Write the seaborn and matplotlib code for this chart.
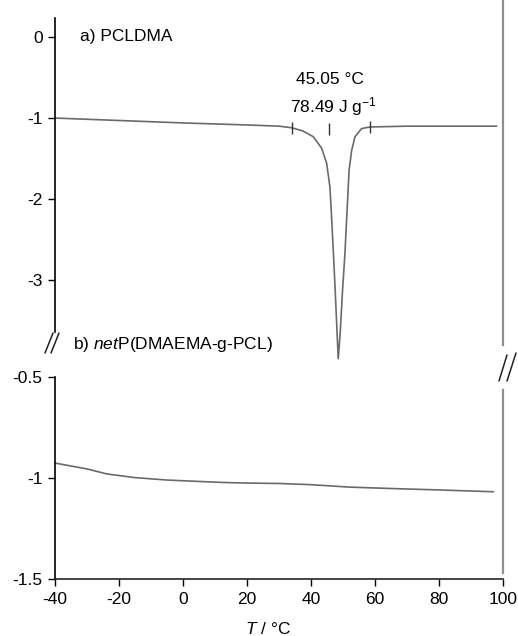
import numpy as np
import pandas as pd
import seaborn as sns
import matplotlib.pyplot as plt
from matplotlib.lines import Line2D

# a) PCLDMA trace (T in °C, heat flow)
top_T = [-40, -20, 0, 20, 30, 34.0, 37.5, 40.7, 43.3, 44.9, 45.9, 46.25, 47.0, 47.5, 48.5,
         49.1, 49.8, 50.6, 51.9, 52.7, 53.75, 55.8, 58.4, 70, 85, 98]
top_v = [-1.00, -1.03, -1.06, -1.085, -1.10, -1.12, -1.16, -1.23, -1.37, -1.56, -1.85, -2.09,
         -2.67, -3.08, -3.97, -3.66, -3.16, -2.67, -1.64, -1.40, -1.23, -1.13, -1.11, -1.10,
         -1.10, -1.10]

# b) netP(DMAEMA-g-PCL) trace
bot_T = [-40, -30, -23.75, -15, -5, 5, 12.5, 20, 30, 40, 52, 65, 80, 97]
bot_v = [-0.926, -0.955, -0.98, -0.998, -1.01, -1.017, -1.022, -1.025, -1.027, -1.033,
         -1.045, -1.052, -1.059, -1.068]

# integration markers on the peak
mark_T = [34.1, 45.6, 58.4]
mark_v = [-1.12, -1.13, -1.11]

x_ticks = [-40, -20, 0, 20, 40, 60, 80, 100]
top_ticks = [0, -1, -2, -3]
bot_ticks = [-0.5, -1, -1.5]
bot_labels = ["-0.5", "-1", "-1.5"]

sns.set_style("ticks")
plt.rcParams['font.family'] = ['Liberation Sans', 'DejaVu Sans']
plt.rcParams['axes.unicode_minus'] = False
plt.rcParams['mathtext.fontset'] = 'custom'
plt.rcParams['mathtext.rm'] = 'Liberation Sans'
plt.rcParams['mathtext.it'] = 'Liberation Sans:italic'
plt.rcParams['text.color'] = 'black'
plt.rcParams['xtick.color'] = 'black'
plt.rcParams['ytick.color'] = 'black'
plt.rcParams['axes.labelcolor'] = 'black'

fs = 12.5
line_col = '#6a6a6a'

df_top = pd.DataFrame({'T': top_T, 'v': top_v})
df_bot = pd.DataFrame({'T': bot_T, 'v': bot_v})

fig = plt.figure(figsize=(5.18, 6.36), dpi=100)
ax1 = fig.add_axes([0.1062, 0.418, 0.8649, 0.582])
ax2 = fig.add_axes([0.1062, 0.0896, 0.8649, 0.3176])

sns.lineplot(data=df_top, x='T', y='v', ax=ax1, color=line_col, lw=1.2, sort=False)
sns.lineplot(data=df_bot, x='T', y='v', ax=ax2, color=line_col, lw=1.2, sort=False)
ax1.plot(mark_T, mark_v, ls='none', marker='|', ms=8, mew=1.0, color='#333333')

for ax in (ax1, ax2):
    ax.set_xlim(-40, 100)
    ax.set_xlabel('')
    ax.set_ylabel('')
    ax.spines['top'].set_visible(False)
    ax.spines['left'].set_color('black')
    ax.spines['left'].set_linewidth(1.2)
    ax.spines['right'].set_visible(True)
    ax.spines['right'].set_color('#8f8f8f')
    ax.spines['right'].set_linewidth(1.6)
    ax.tick_params(axis='y', labelsize=fs, length=5, width=1, direction='out', pad=4, right=False)

# top panel
ax1.set_ylim(-4.111, 0.457)
ax1.set_yticks(top_ticks)
ax1.set_yticklabels([str(t) for t in top_ticks])
ax1.spines['bottom'].set_visible(False)
ax1.spines['left'].set_bounds(-3.64, 0.23)
ax1.spines['right'].set_bounds(-3.80, 0.457)
ax1.tick_params(axis='x', bottom=False, labelbottom=False)
ax1.set_zorder(3)
ax1.patch.set_visible(False)

ax1.text(-32.2, 0.01, 'a) PCLDMA', fontsize=fs, ha='left', va='center')
ax1.text(45.9, -0.53, '45.05 °C', fontsize=fs, ha='center', va='center')
ax1.text(46.9, -0.86, '78.49 J g$^{-1}$', fontsize=fs, ha='center', va='center')
ax1.text(-34.4, -3.80, 'b) $\\it{net}$P(DMAEMA-g-PCL)', fontsize=fs, ha='left', va='center')

# bottom panel
ax2.set_ylim(-1.5, -0.5)
ax2.set_yticks(bot_ticks)
ax2.set_yticklabels(bot_labels)
ax2.spines['right'].set_bounds(-1.47, -0.564)
ax2.spines['bottom'].set_linewidth(1.2)
ax2.set_xticks(x_ticks)
ax2.set_xticklabels([str(t) for t in x_ticks])
ax2.tick_params(axis='x', labelsize=fs, length=5, width=1, direction='out', pad=4)
ax2.set_xlabel('$T$ / °C', fontsize=fs)
ax2.xaxis.set_label_coords(0.475, -0.21)

# axis break marks
W, H = 518, 636
def slash(x0, y0, x1, y1):
    fig.add_artist(Line2D([x0 / W, x1 / W], [1 - y0 / H, 1 - y1 / H],
                          color='#222222', lw=1.1, transform=fig.transFigure))

slash(45, 353, 53, 333)
slash(51, 353, 59, 333)
slash(499, 381, 507, 355)
slash(507, 381, 516, 353)

fig.savefig('out.png', dpi=100)
